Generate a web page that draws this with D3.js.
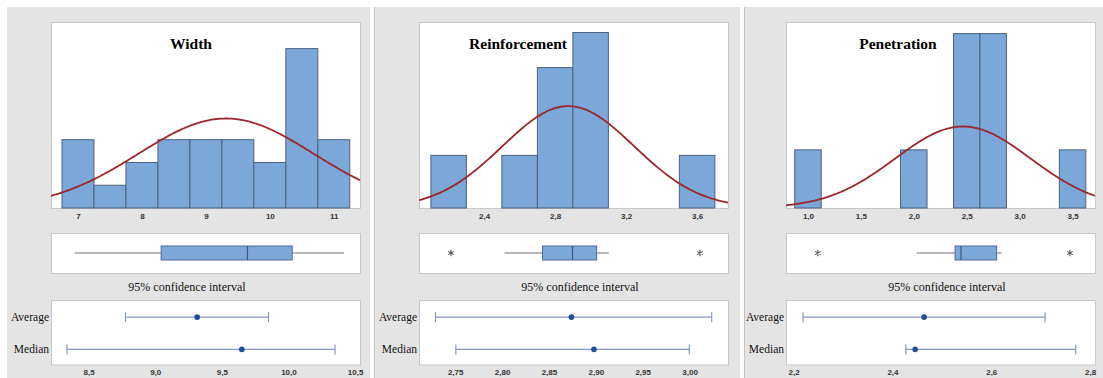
<!DOCTYPE html>
<html lang="en">
  <head>
    <meta charset="UTF-8">
    <script type="text/javascript" src="https://cdn.jsdelivr.net/npm/d3@7"></script>
    <style>
      body { margin: 0; background: #fff; }
      svg { display: block; }
    </style>
    <title>Width / Reinforcement / Penetration</title>
  </head>
  <body>
    <script type="text/javascript">
      // Three graphical summaries: histogram + normal fit, boxplot, 95% CI

      let w = 1103;
      let h = 378;

      // data
      let titles = ['Width', 'Reinforcement', 'Penetration'];
      let sampleSize = [27, 27, 27];

      let binCenters = [
        [7, 7.5, 8, 8.5, 9, 9.5, 10, 10.5, 11],
        [2.2, 2.4, 2.6, 2.8, 3.0, 3.2, 3.4, 3.6],
        [1.0, 1.25, 1.5, 1.75, 2.0, 2.25, 2.5, 2.75, 3.0, 3.25, 3.5]
      ];
      let binCounts = [
        [3, 1, 2, 3, 3, 3, 2, 7, 3],
        [3, 0, 3, 8, 10, 0, 0, 3],
        [3, 0, 0, 0, 3, 0, 9, 9, 0, 0, 3]
      ];
      let binWidths = [0.5, 0.2, 0.25];

      let means = [9.315, 2.874, 2.464];
      let stdDevs = [1.37, 0.371, 0.64];

      let histDomains = [[6.578, 11.41], [2.033, 3.774], [0.7925, 3.712]];
      let histYMax = [8.17, 10.6, 9.6];
      let histTicks = [[7, 8, 9, 10, 11], [2.4, 2.8, 3.2, 3.6], [1, 1.5, 2, 2.5, 3, 3.5]];
      let histDecimals = [0, 1, 1];

      let q1 = [8.30, 2.729, 2.39];
      let medians = [9.65, 2.898, 2.446];
      let q3 = [10.35, 3.034, 2.783];
      let whiskerLow = [6.95, 2.515, 2.028];
      let whiskerHigh = [11.16, 3.102, 2.83];
      let outliers = [[], [2.213, 3.616], [1.094, 3.475]];

      let meanCI = [[8.777, 9.85], [2.729, 3.0236], [2.219, 2.709]];
      let medianCI = [[8.338, 10.35], [2.7507, 2.9997], [2.427, 2.771]];
      let ciLabels = ['Average', 'Median'];
      let ciDomains = [[8.218, 10.537], [2.7114, 3.041], [2.1845, 2.81]];
      let ciTicks = [[8.5, 9, 9.5, 10, 10.5], [2.75, 2.8, 2.85, 2.9, 2.95, 3.0], [2.2, 2.4, 2.6, 2.8]];
      let ciDecimals = [1, 2, 1];

      // layout
      let panelX = [7, 374, 744];
      let panelRight = [370, 740, 1103];
      let frameX = [51, 419, 786];
      let frameW = 309;
      let titleX = [191, 518, 898];
      let ciTitleX = [187, 580, 947];
      let histTop = 22, histBottom = 208;
      let boxTop = 233, boxBottom = 273;
      let ciTop = 300, ciBottom = 364.5;

      let barFill = '#7ba7d9';
      let barStroke = '#4d607c';
      let curveColor = '#9e2529';
      let frameStroke = '#c8c8c8';

      let fmt = (d, n) => d.toFixed(n).replace('.', ',');

      let svg = d3.select('body')
                  .append('svg')
                  .attr('width', w)
                  .attr('height', h);

      svg.append('rect').attr('width', w).attr('height', h).attr('fill', '#fff');

      titles.forEach((title, i) => {
        let g = svg.append('g');

        // panel background
        g.append('rect')
          .attr('x', panelX[i]).attr('y', 7)
          .attr('width', panelRight[i] - panelX[i]).attr('height', h - 7)
          .attr('fill', '#e4e4e4');
        if (i > 0) {
          g.append('line')
            .attr('x1', panelX[i] + 0.5).attr('x2', panelX[i] + 0.5)
            .attr('y1', 7).attr('y2', h)
            .attr('stroke', '#c4c4c4');
        }

        let fx = frameX[i];

        // ---------- histogram ----------
        let x = d3.scaleLinear().domain(histDomains[i]).range([fx, fx + frameW]);
        let y = d3.scaleLinear().domain([0, histYMax[i]]).range([histBottom, histTop]);

        g.append('rect')
          .attr('x', fx + 0.5).attr('y', histTop + 0.5)
          .attr('width', frameW).attr('height', histBottom - histTop)
          .attr('fill', '#fff').attr('stroke', frameStroke);

        let bins = binCenters[i].map((c, j) => ({ c: c, n: binCounts[i][j] }))
                                .filter(d => d.n > 0);
        g.selectAll('rect.bar')
          .data(bins)
          .enter()
          .append('rect')
          .attr('class', 'bar')
          .attr('x', d => x(d.c - binWidths[i] / 2))
          .attr('y', d => y(d.n))
          .attr('width', d => x(d.c + binWidths[i] / 2) - x(d.c - binWidths[i] / 2))
          .attr('height', d => y(0) - y(d.n))
          .attr('fill', barFill)
          .attr('stroke', barStroke)
          .attr('stroke-width', 1);

        // fitted normal curve
        let clipId = 'clip' + i;
        svg.append('clipPath').attr('id', clipId)
          .append('rect')
          .attr('x', fx).attr('y', histTop)
          .attr('width', frameW + 1).attr('height', histBottom - histTop);

        let xs = d3.range(0, 201).map(k => histDomains[i][0] + (histDomains[i][1] - histDomains[i][0]) * k / 200);
        let scaleN = sampleSize[i] * binWidths[i] / (stdDevs[i] * Math.sqrt(2 * Math.PI));
        let dens = v => scaleN * Math.exp(-Math.pow(v - means[i], 2) / (2 * stdDevs[i] * stdDevs[i]));
        g.append('path')
          .datum(xs)
          .attr('clip-path', 'url(#' + clipId + ')')
          .attr('d', d3.line().x(d => x(d)).y(d => y(dens(d))).curve(d3.curveBasis))
          .attr('fill', 'none')
          .attr('stroke', curveColor)
          .attr('stroke-width', 1.8);

        // x axis labels
        g.append('g')
          .attr('transform', 'translate(0,' + histBottom + ')')
          .call(d3.axisBottom(x).tickValues(histTicks[i]).tickSize(0).tickPadding(5)
                  .tickFormat(d => fmt(d, histDecimals[i])))
          .call(a => a.select('.domain').remove())
          .selectAll('text')
          .attr('font-family', 'Liberation Sans, Arial, sans-serif')
          .attr('font-size', '8px')
          .attr('font-weight', 'bold')
          .attr('fill', '#333');

        g.append('text')
          .text(title)
          .attr('x', titleX[i]).attr('y', 49)
          .attr('text-anchor', 'middle')
          .attr('font-family', 'Liberation Serif, Times New Roman, serif')
          .attr('font-weight', 'bold')
          .attr('font-size', '15.5px')
          .attr('fill', '#000');

        // ---------- boxplot ----------
        g.append('rect')
          .attr('x', fx + 0.5).attr('y', boxTop + 0.5)
          .attr('width', frameW).attr('height', boxBottom - boxTop)
          .attr('fill', '#fff').attr('stroke', frameStroke);

        let by = (boxTop + boxBottom) / 2;
        g.append('line')
          .attr('x1', x(whiskerLow[i])).attr('x2', x(whiskerHigh[i]))
          .attr('y1', by).attr('y2', by)
          .attr('stroke', '#707070').attr('stroke-width', 1);
        g.append('rect')
          .attr('x', x(q1[i])).attr('y', by - 7)
          .attr('width', x(q3[i]) - x(q1[i])).attr('height', 14)
          .attr('fill', barFill).attr('stroke', '#4d6b99');
        g.append('line')
          .attr('x1', x(medians[i])).attr('x2', x(medians[i]))
          .attr('y1', by - 7).attr('y2', by + 7)
          .attr('stroke', '#3f5678').attr('stroke-width', 1.2);
        g.selectAll('path.out')
          .data(outliers[i])
          .enter()
          .append('path')
          .attr('class', 'out')
          .attr('transform', d => 'translate(' + x(d) + ',' + by + ')')
          .attr('d', d3.symbol(d3.symbolAsterisk, 30))
          .attr('fill', 'none')
          .attr('stroke', '#555')
          .attr('stroke-width', 1.1);

        // ---------- confidence intervals ----------
        g.append('text')
          .text('95% confidence interval')
          .attr('x', ciTitleX[i]).attr('y', 291)
          .attr('text-anchor', 'middle')
          .attr('font-family', 'Liberation Serif, Times New Roman, serif')
          .attr('font-size', '12px')
          .attr('fill', '#111');

        g.append('rect')
          .attr('x', fx + 0.5).attr('y', ciTop + 0.5)
          .attr('width', frameW).attr('height', ciBottom - ciTop)
          .attr('fill', '#fff').attr('stroke', frameStroke);

        let cx = d3.scaleLinear().domain(ciDomains[i]).range([fx, fx + frameW]);
        let cy = d3.scalePoint().domain(ciLabels).range([ciTop, ciBottom]).padding(0.5);

        let rows = [
          { label: 'Average', lo: meanCI[i][0], hi: meanCI[i][1], pt: means[i] },
          { label: 'Median', lo: medianCI[i][0], hi: medianCI[i][1], pt: medians[i] }
        ];
        let rg = g.selectAll('g.row')
          .data(rows)
          .enter()
          .append('g')
          .attr('class', 'row')
          .attr('transform', d => 'translate(0,' + (cy(d.label) + 1) + ')');
        rg.append('line')
          .attr('x1', d => cx(d.lo)).attr('x2', d => cx(d.hi))
          .attr('stroke', '#8598c4').attr('stroke-width', 1.2);
        rg.append('line')
          .attr('x1', d => cx(d.lo)).attr('x2', d => cx(d.lo))
          .attr('y1', -5).attr('y2', 5)
          .attr('stroke', '#8598c4').attr('stroke-width', 1.2);
        rg.append('line')
          .attr('x1', d => cx(d.hi)).attr('x2', d => cx(d.hi))
          .attr('y1', -5).attr('y2', 5)
          .attr('stroke', '#8598c4').attr('stroke-width', 1.2);
        rg.append('circle')
          .attr('cx', d => cx(d.pt))
          .attr('r', 2.8)
          .attr('fill', '#1f4f9c');
        rg.append('text')
          .text(d => d.label)
          .attr('x', fx - 2)
          .attr('y', 4)
          .attr('text-anchor', 'end')
          .attr('font-family', 'Liberation Serif, Times New Roman, serif')
          .attr('font-size', '11.5px')
          .attr('fill', '#111');

        g.append('g')
          .attr('transform', 'translate(0,' + ciBottom + ')')
          .call(d3.axisBottom(cx).tickValues(ciTicks[i]).tickSize(0).tickPadding(5)
                  .tickFormat(d => fmt(d, ciDecimals[i])))
          .call(a => a.select('.domain').remove())
          .selectAll('text')
          .attr('font-family', 'Liberation Sans, Arial, sans-serif')
          .attr('font-size', '8px')
          .attr('font-weight', 'bold')
          .attr('fill', '#333');
      });
    </script>
  </body>
</html>
